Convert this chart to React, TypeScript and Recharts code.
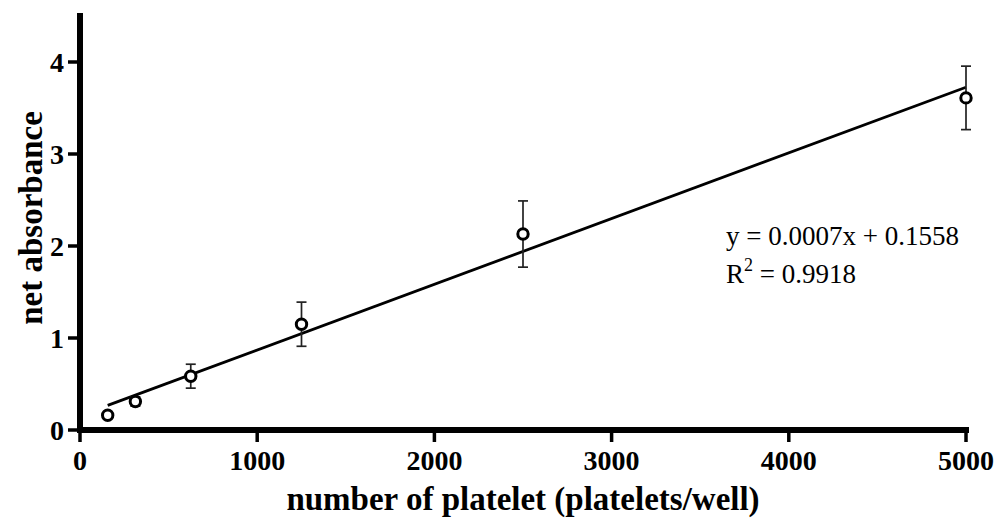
import React from "react";
import {
  ComposedChart,
  Scatter,
  Line,
  XAxis,
  YAxis,
  ErrorBar,
  Label,
  Customized,
} from "recharts";

// platelets per well (2-fold dilution series) vs. net absorbance, mean ± SD
const platelets = [156.25, 312.5, 625, 1250, 2500, 5000];
const absorbance = [0.16, 0.31, 0.585, 1.15, 2.13, 3.61];
const absorbanceSd = [0.01, 0.05, 0.13, 0.24, 0.36, 0.345];

const xTicks = [0, 1000, 2000, 3000, 4000, 5000];
const yTicks = [0, 1, 2, 3, 4];

// linear fit (slope printed rounded to 4 decimals)
const FIT_SLOPE = 0.000714;
const FIT_INTERCEPT = 0.1558;
const FIT_R2 = 0.9918;

const points = platelets.map((x, i) => ({
  x,
  y: absorbance[i],
  sd: absorbanceSd[i],
}));

const fitLine = [platelets[0], platelets[platelets.length - 1]].map((x) => ({
  x,
  fit: FIT_SLOPE * x + FIT_INTERCEPT,
}));

const FONT = "'Liberation Serif', 'Times New Roman', serif";

const tickStyle = {
  fontFamily: FONT,
  fontSize: 28,
  fontWeight: 700,
  fill: "#000",
};

const OpenCircle = (props: any) => (
  <circle
    cx={props.cx}
    cy={props.cy}
    r={5.2}
    fill="#fff"
    stroke="#000"
    strokeWidth={3}
  />
);

const YTitle = (props: any) => {
  const { viewBox } = props;
  const cy = viewBox.y + viewBox.height / 2 - 5;
  return (
    <text
      transform={`translate(42, ${cy}) rotate(-90)`}
      textAnchor="middle"
      fontFamily={FONT}
      fontSize={33}
      fontWeight={700}
      fill="#000"
    >
      net absorbance
    </text>
  );
};

const Equation = () => (
  <g fontFamily={FONT} fontSize={27} fill="#000">
    <text x={726} y={245}>
      {`y = ${FIT_SLOPE.toFixed(4)}x + ${FIT_INTERCEPT}`}
    </text>
    <text x={726} y={283}>
      R
      <tspan fontSize={18} dy={-12}>
        2
      </tspan>
      <tspan dy={12}>{` = ${FIT_R2}`}</tspan>
    </text>
  </g>
);

export default function App() {
  return (
    <div style={{ position: "absolute", left: 0, top: 0, background: "#fff" }}>
      <ComposedChart
        width={998}
        height={519}
        margin={{ top: 16, right: 32, left: 0, bottom: 0 }}
      >
        <XAxis
          type="number"
          dataKey="x"
          domain={[0, 5000]}
          ticks={xTicks}
          height={89}
          tickSize={12}
          tickMargin={8}
          tick={tickStyle}
          axisLine={{ stroke: "#000", strokeWidth: 6, strokeLinecap: "square" }}
          tickLine={{ stroke: "#000", strokeWidth: 3.5 }}
        >
          <Label
            value="number of platelet (platelets/well)"
            position="insideBottom"
            offset={9}
            style={{
              fontFamily: FONT,
              fontSize: 33,
              fontWeight: 700,
              fill: "#000",
            }}
          />
        </XAxis>
        <YAxis
          type="number"
          domain={[0, 4.5]}
          ticks={yTicks}
          width={80}
          tickSize={12}
          tickMargin={4}
          tick={tickStyle}
          allowDataOverflow
          axisLine={{ stroke: "#000", strokeWidth: 6, strokeLinecap: "square" }}
          tickLine={{ stroke: "#000", strokeWidth: 3.5 }}
        >
          <Label content={YTitle} />
        </YAxis>
        <Line
          data={fitLine}
          dataKey="fit"
          type="linear"
          stroke="#000"
          strokeWidth={2.8}
          dot={false}
          activeDot={false}
          isAnimationActive={false}
        />
        <Scatter
          data={points}
          dataKey="y"
          shape={OpenCircle}
          isAnimationActive={false}
        >
          <ErrorBar
            dataKey="sd"
            direction="y"
            width={5}
            stroke="#222"
            strokeWidth={1.7}
            isAnimationActive={false}
          />
        </Scatter>
        <Customized component={Equation} />
      </ComposedChart>
    </div>
  );
}
